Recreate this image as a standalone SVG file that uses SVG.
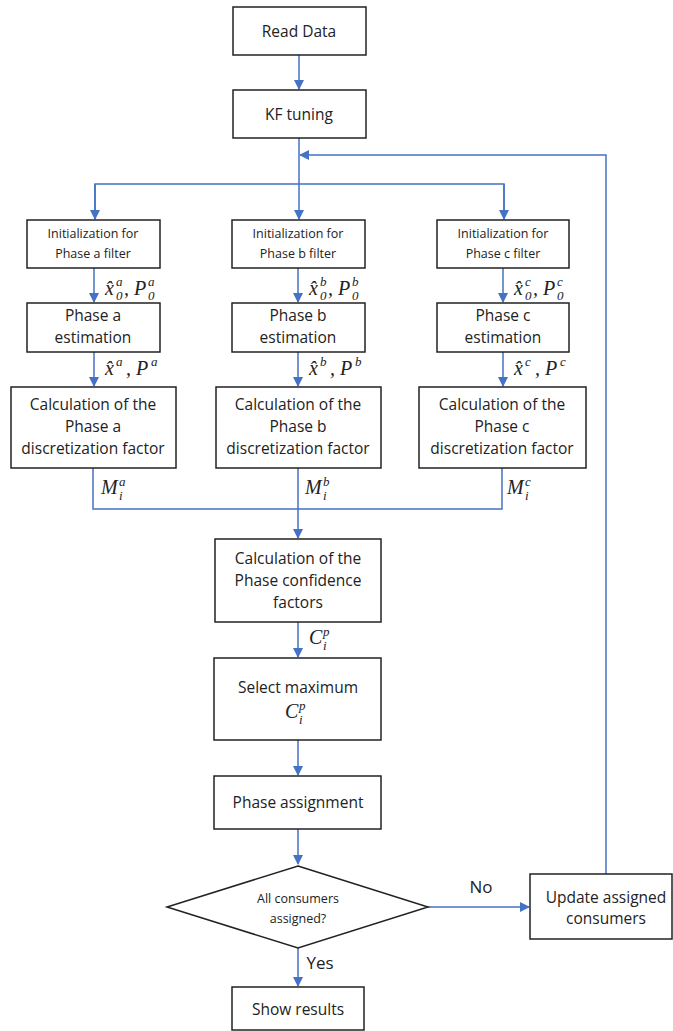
<svg xmlns="http://www.w3.org/2000/svg" width="673" height="1031" viewBox="0 0 673 1031">
<style>
.box{fill:#fff;stroke:#222;stroke-width:1.5}
.t{font-family:"Open Sans","Liberation Sans",sans-serif;font-size:15.5px;fill:#222;text-anchor:middle}
.s{font-size:12.5px}
.m{font-family:"Liberation Serif","DejaVu Serif",serif;font-style:italic;font-size:20px;fill:#222}
.sp{font-family:"Liberation Serif","DejaVu Serif",serif;font-style:italic;font-size:13px;fill:#222}
.c{fill:none;stroke:#4472C4;stroke-width:1.5}
</style>
<defs>
<marker id="ah" markerWidth="10" markerHeight="10" refX="9" refY="5" orient="auto" markerUnits="userSpaceOnUse">
<path d="M0,0 L10,5 L0,10 Z" fill="#4472C4"/>
</marker>
</defs>
<g id="connectors">
<path class="c" d="M299,55 V89" marker-end="url(#ah)"/>
<path class="c" d="M299,138 V219" marker-end="url(#ah)"/>
<path class="c" d="M95,219 V184 H504 V219" />
<path class="c" d="M95,184 V219" marker-end="url(#ah)"/>
<path class="c" d="M504,184 V219" marker-end="url(#ah)"/>
<path class="c" d="M606,874 V155 H300" marker-end="url(#ah)"/>
<path class="c" d="M94,268 V302" marker-end="url(#ah)"/>
<path class="c" d="M298,268 V302" marker-end="url(#ah)"/>
<path class="c" d="M503,268 V302" marker-end="url(#ah)"/>
<path class="c" d="M94,352 V386" marker-end="url(#ah)"/>
<path class="c" d="M298,352 V386" marker-end="url(#ah)"/>
<path class="c" d="M503,352 V386" marker-end="url(#ah)"/>
<path class="c" d="M93,468 V509 H502 V468"/>
<path class="c" d="M298,468 V538" marker-end="url(#ah)"/>
<path class="c" d="M298,622 V657" marker-end="url(#ah)"/>
<path class="c" d="M298,740 V775" marker-end="url(#ah)"/>
<path class="c" d="M298,829 V864" marker-end="url(#ah)"/>
<path class="c" d="M428,907 H529" marker-end="url(#ah)"/>
<path class="c" d="M298,948 V986" marker-end="url(#ah)"/>
</g>
<g id="labels">
<text class="t" x="481" y="893" style="font-size:17px">No</text>
<text class="t" x="320" y="969" style="font-size:17px">Yes</text>
<text class="m" x="105" y="295">x̂</text><text class="sp" x="116" y="286">a</text><text class="sp" x="116" y="300">0</text><text class="m" x="124" y="295">, P</text><text class="sp" x="148" y="286">a</text><text class="sp" x="148" y="300">0</text>
<text class="m" x="309" y="295">x̂</text><text class="sp" x="320" y="286">b</text><text class="sp" x="320" y="300">0</text><text class="m" x="328" y="295">, P</text><text class="sp" x="352" y="286">b</text><text class="sp" x="352" y="300">0</text>
<text class="m" x="514" y="295">x̂</text><text class="sp" x="525" y="286">c</text><text class="sp" x="525" y="300">0</text><text class="m" x="533" y="295">, P</text><text class="sp" x="557" y="286">c</text><text class="sp" x="557" y="300">0</text>
<text class="m" x="105" y="375">x̂</text><text class="sp" x="116" y="366">a</text><text class="m" x="126" y="375">, P</text><text class="sp" x="151" y="366">a</text>
<text class="m" x="309" y="375">x̂</text><text class="sp" x="320" y="366">b</text><text class="m" x="330" y="375">, P</text><text class="sp" x="355" y="366">b</text>
<text class="m" x="514" y="375">x̂</text><text class="sp" x="525" y="366">c</text><text class="m" x="535" y="375">, P</text><text class="sp" x="560" y="366">c</text>
<text class="m" x="101" y="494">M</text><text class="sp" x="119" y="486">a</text><text class="sp" x="119" y="500">i</text>
<text class="m" x="305" y="494">M</text><text class="sp" x="323" y="486">b</text><text class="sp" x="323" y="500">i</text>
<text class="m" x="507" y="494">M</text><text class="sp" x="525" y="486">c</text><text class="sp" x="525" y="500">i</text>
<text class="m" x="309" y="644">C</text><text class="sp" x="323" y="636">p</text><text class="sp" x="323" y="650">i</text>
</g>
<g id="read"><rect class="box" x="233" y="7" width="133" height="48"/><text class="t" x="299" y="37">Read Data</text></g>
<g id="kf"><rect class="box" x="233" y="90" width="133" height="48"/><text class="t" x="299" y="120">KF tuning</text></g>
<g id="init-a"><rect class="box" x="27" y="220" width="133" height="48"/><text class="t s" x="93" y="238">Initialization for</text><text class="t s" x="93" y="258">Phase a filter</text></g>
<g id="init-b"><rect class="box" x="232" y="220" width="133" height="48"/><text class="t s" x="298" y="238">Initialization for</text><text class="t s" x="298" y="258">Phase b filter</text></g>
<g id="init-c"><rect class="box" x="437" y="220" width="132" height="48"/><text class="t s" x="503" y="238">Initialization for</text><text class="t s" x="503" y="258">Phase c filter</text></g>
<g id="est-a"><rect class="box" x="27" y="303" width="133" height="49"/><text class="t" x="93" y="321">Phase a</text><text class="t" x="93" y="343">estimation</text></g>
<g id="est-b"><rect class="box" x="232" y="303" width="133" height="49"/><text class="t" x="298" y="321">Phase b</text><text class="t" x="298" y="343">estimation</text></g>
<g id="est-c"><rect class="box" x="437" y="303" width="132" height="49"/><text class="t" x="503" y="321">Phase c</text><text class="t" x="503" y="343">estimation</text></g>
<g id="calc-a"><rect class="box" x="11" y="387" width="165" height="81"/><text class="t" x="93" y="410">Calculation of the</text><text class="t" x="93" y="432">Phase a</text><text class="t" x="93" y="454">discretization factor</text></g>
<g id="calc-b"><rect class="box" x="216" y="387" width="165" height="81"/><text class="t" x="298" y="410">Calculation of the</text><text class="t" x="298" y="432">Phase b</text><text class="t" x="298" y="454">discretization factor</text></g>
<g id="calc-c"><rect class="box" x="419" y="387" width="167" height="81"/><text class="t" x="502" y="410">Calculation of the</text><text class="t" x="502" y="432">Phase c</text><text class="t" x="502" y="454">discretization factor</text></g>
<g id="conf"><rect class="box" x="215" y="539" width="166" height="83"/><text class="t" x="298" y="564">Calculation of the</text><text class="t" x="298" y="586">Phase confidence</text><text class="t" x="298" y="608">factors</text></g>
<g id="select"><rect class="box" x="214" y="658" width="167" height="82"/><text class="t" x="298" y="693">Select maximum</text><text class="m" x="285" y="718">C</text><text class="sp" x="299" y="710">p</text><text class="sp" x="299" y="724">i</text></g>
<g id="assign"><rect class="box" x="214" y="776" width="167" height="53"/><text class="t" x="298" y="808">Phase assignment</text></g>
<g id="decision"><polygon class="box" points="298,866 428,907 298,948 167,907"/><text class="t s" x="298" y="903">All consumers</text><text class="t s" x="298" y="923">assigned?</text></g>
<g id="update"><rect class="box" x="530" y="874" width="142" height="65"/><text class="t" x="606" y="903">Update assigned</text><text class="t" x="606" y="924">consumers</text></g>
<g id="show"><rect class="box" x="232" y="987" width="132" height="43"/><text class="t" x="298" y="1015">Show results</text></g>
</svg>
